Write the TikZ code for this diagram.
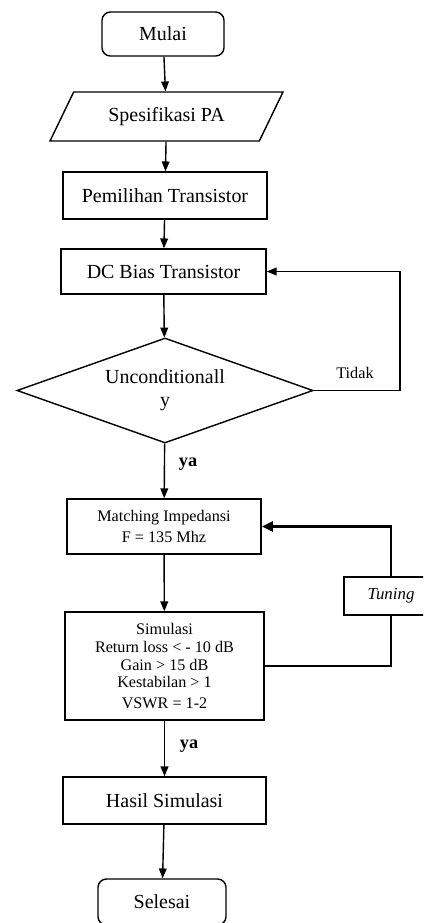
\documentclass[tikz,border=0pt]{standalone}
\usepackage{fontspec}
\setmainfont{Liberation Serif}
\usetikzlibrary{arrows.meta,shapes.geometric}

\begin{document}
\begin{tikzpicture}[x=0.025cm,y=-0.025cm,
  box/.style={draw,line width=1pt,inner sep=2pt,align=center,font=\fontsize{14.2}{16}\selectfont},
  endbox/.style={box,rounded corners=6pt},
  small/.style={font=\fontsize{11.5}{12.5}\selectfont},
  arr/.style={line width=1pt,-{Triangle[length=7pt,width=5.5pt]}},
  thk/.style={line width=2pt}]
  \useasboundingbox (0,0) rectangle (423,923);
  \clip (0,0) rectangle (423,923);

  \node[endbox,minimum width=3.05cm,minimum height=1.1cm] (mulai) at (163,34) {Mulai};
  \node[box,trapezium,trapezium left angle=57,trapezium right angle=123,trapezium stretches=true,
        minimum width=5.825cm,minimum height=1.225cm] (spek) at (166.5,116.5) {Spesifikasi PA};
  \node[box,minimum width=5.1cm,minimum height=1.175cm] (pilih) at (165,195.5) {Pemilihan Transistor};
  \node[box,minimum width=5.125cm,minimum height=1.125cm] (bias) at (163.5,271.5) {DC Bias Transistor};
  \node[box,diamond,aspect=2.8,inner sep=0pt,minimum width=7.4cm,minimum height=2.625cm,
        font=\fontsize{14.2}{16.5}\selectfont] (uncond) at (165,390.5) {Unconditionall\\y};
  \node[box,small,minimum width=4.85cm,minimum height=1.375cm] (match) at (164,526.5) {Matching Impedansi\\[3pt]F = 135 Mhz};
  \node[box,small,minimum width=4.975cm,minimum height=2.7cm] (sim) at (164.5,666)
    {Simulasi\\Return loss < - 10 dB\\Gain > 15 dB\\Kestabilan > 1\\[2pt]VSWR = 1-2};
  \node[box,minimum width=5.075cm,minimum height=1.175cm] (hasil) at (164.5,800.5) {Hasil Simulasi};
  \node[endbox,minimum width=3.2cm,minimum height=1.15cm] (selesai) at (162,902) {Selesai};
  \node[box,thk,minimum width=2.35cm,minimum height=0.95cm,font=\fontsize{12}{14}\selectfont\itshape] (tuning) at (391,596) {Tuning};

  \node[font=\fontsize{11.5}{14}\selectfont] (tidak) at (355,373) {Tidak};
  \node[font=\fontsize{13}{15}\selectfont\bfseries] (ya1) at (188,464) {ya};
  \node[font=\fontsize{13}{15}\selectfont\bfseries] (ya2) at (189,746) {ya};

  \draw[arr] (mulai) -- (spek);
  \draw[arr] (spek) -- (pilih);
  \draw[arr] (pilih) -- (bias);
  \draw[arr] (bias) -- (uncond);
  \draw[arr] (uncond) -- (match);
  \draw[arr] (match) -- (sim);
  \draw[arr] (sim) -- (hasil);
  \draw[arr] (hasil) -- (selesai);

  \coordinate (pojok) at (400,390.5);
  \draw[arr] (uncond.east) -- (pojok) |- (bias.east);
  \draw[thk] (sim.east) -| (tuning.south);
  \draw[thk,-{Triangle[length=8pt,width=7pt]}] (tuning.north) |- (match.east);
\end{tikzpicture}
\end{document}
